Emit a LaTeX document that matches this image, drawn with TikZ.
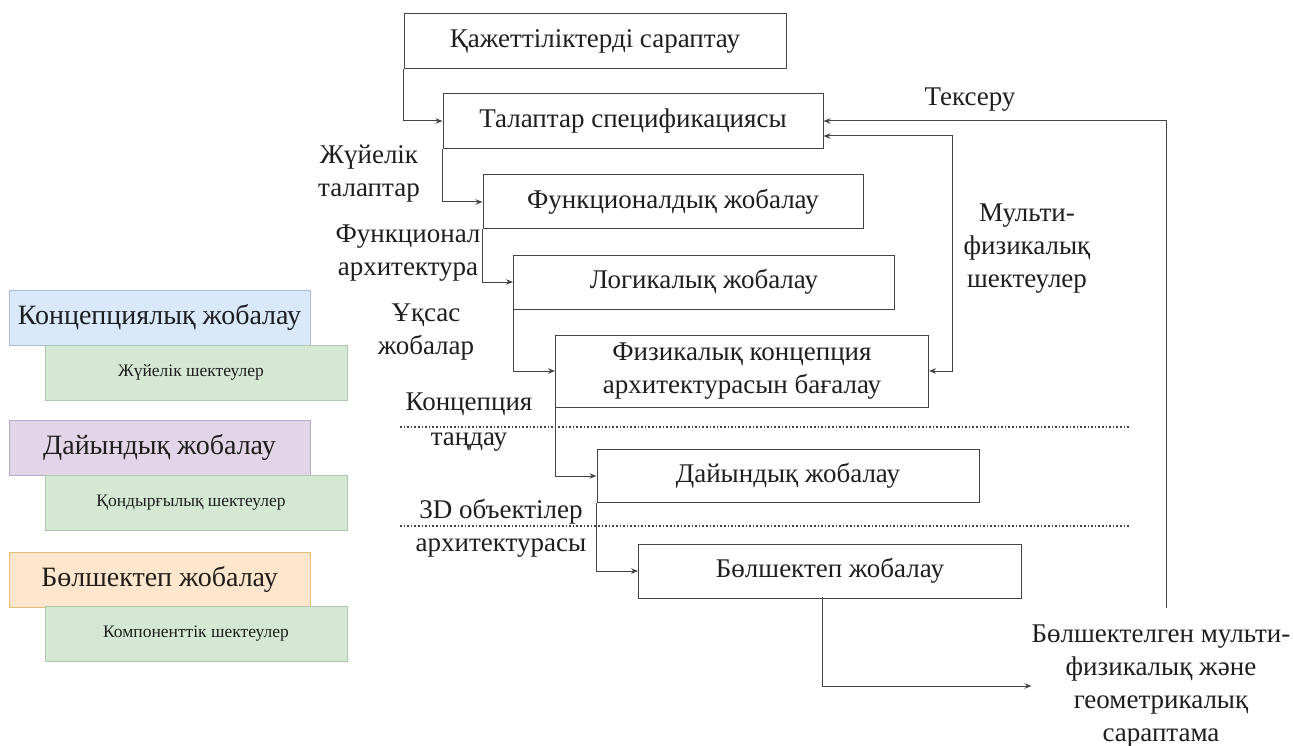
\documentclass[tikz,border=0pt]{standalone}
\usepackage{fontspec}
\setmainfont{Liberation Serif}
\usetikzlibrary{arrows.meta,calc}
\definecolor{ink}{HTML}{1E1E1E}
\definecolor{edge}{HTML}{444444}
\definecolor{blueF}{HTML}{DAE8FC}\definecolor{blueD}{HTML}{A8BCD8}
\definecolor{violF}{HTML}{E1D5E7}\definecolor{violD}{HTML}{BBA8C8}
\definecolor{orngF}{HTML}{FFE6CC}\definecolor{orngD}{HTML}{E6BA78}
\definecolor{grnF}{HTML}{D5E8D4}\definecolor{grnD}{HTML}{AEC8AC}
\tikzset{
  stagebox/.style={draw=edge, line width=1pt, inner sep=0pt, text=ink,
    font=\fontsize{27}{33}\selectfont, align=center},
  lbl/.style={text=ink, inner sep=0pt, align=center, font=\fontsize{27}{33}\selectfont},
  phasebox/.style={line width=0.9pt, inner sep=0pt, minimum width=301pt, minimum height=55pt,
    text=ink, font=\fontsize{28}{32}\selectfont},
  limbox/.style={fill=grnF, draw=grnD, line width=0.9pt, inner sep=0pt, minimum width=302pt,
    minimum height=55pt, text=ink, font=\fontsize{17.5}{20}\selectfont},
  arr/.style={draw=edge, line width=1pt, -{Stealth[length=7pt,width=5.5pt]}},
  biarr/.style={draw=edge, line width=1pt, {Stealth[length=7pt,width=5.5pt]}-{Stealth[length=7pt,width=5.5pt]}},
  sep/.style={draw=edge, line width=1.6pt, dotted}
}
\begin{document}
\begin{tikzpicture}[x=1pt, y=-1pt]
\useasboundingbox (0,0) rectangle (1293,746);

% design stages
\node[stagebox, minimum width=382pt, minimum height=55pt] (A) at (595,41) {Қажеттіліктерді сараптау};
\node[stagebox, minimum width=380pt, minimum height=55pt] (B) at (633,121) {Талаптар спецификациясы};
\node[stagebox, minimum width=380pt, minimum height=54pt] (C) at (673,202) {Функционалдық жобалау};
\node[stagebox, minimum width=381pt, minimum height=54pt] (D) at (704,282) {Логикалық жобалау};
\node[stagebox, minimum width=373pt, minimum height=72pt] (E) at (742,371) {Физикалық концепция\\архитектурасын бағалау};
\node[stagebox, minimum width=382pt, minimum height=53pt] (F) at (788,476) {Дайындық жобалау};
\node[stagebox, minimum width=383pt, minimum height=54pt] (G) at (830,571) {Бөлшектеп жобалау};
\node[lbl] (out) at (1161,686) {Бөлшектелген мульти-\\физикалық және\\геометрикалық\\сараптама};

% phase separators
\draw[sep] (400,427) -- (1130,427);
\draw[sep] (400,526) -- (1130,526);

% flow between stages
\draw[arr] (A.south west) |- (B.west);
\draw[arr] (B.south west) |- (C.west);
\draw[arr] (C.south west) |- (D.west);
\draw[arr] (D.south west) |- (E.west);
\draw[arr] (E.south west) |- (F.west);
\draw[arr] (F.south west) |- (G.west);
\coordinate (gout) at (822,597);
\draw[arr] (gout) |- (out.west);

% feedback loops
\coordinate (chk) at (1166,608);
\draw[arr] (chk) |- (B.east);
\coordinate (mph) at (952,250);
\draw[biarr] ($(B.east)+(0,15)$) -| (mph) |- (E.east);

% connector labels
\node[lbl] (l1) at (369,174) {Жүйелік\\талаптар};
\node[lbl] (l2) at (408,253) {Функционал\\архитектура};
\node[lbl] (l3) at (426,332) {Ұқсас\\жобалар};
\node[lbl, font=\fontsize{27}{35}\selectfont] (l4) at (469,422) {Концепция\\таңдау};
\node[lbl] (l5) at (501,528) {3D объектілер\\архитектурасы};
\node[lbl] (l6) at (1027,249) {Мульти-\\физикалық\\шектеулер};
\node[lbl] (l7) at (970,100) {Тексеру};

% legend
\node[phasebox, fill=blueF, draw=blueD] (p1) at (159.5,317.5) {Концепциялық жобалау};
\node[limbox] (k1) at (196,372.5) {\hspace*{-10pt}Жүйелік шектеулер};
\node[phasebox, fill=violF, draw=violD] (p2) at (159.5,447.5) {Дайындық жобалау};
\node[limbox] (k2) at (196,502.5) {\hspace*{-10pt}Қондырғылық шектеулер};
\node[phasebox, fill=orngF, draw=orngD] (p3) at (159.5,579.5) {Бөлшектеп жобалау};
\node[limbox] (k3) at (196,634) {Компоненттік шектеулер};
\end{tikzpicture}
\end{document}
